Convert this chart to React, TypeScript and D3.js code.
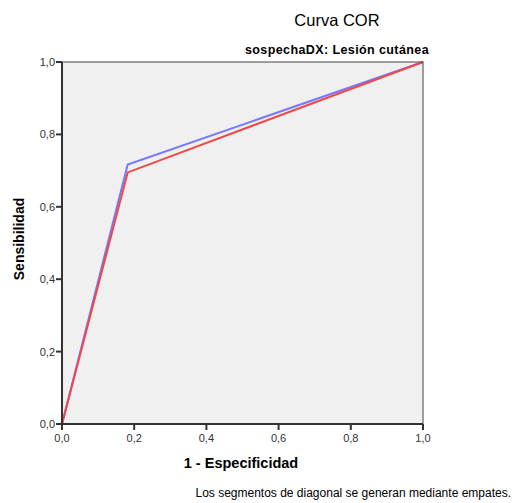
import * as d3 from "d3";

const fpr = [0, 0.182, 1];
const sensBlue = [0, 0.717, 1];
const sensRed = [0, 0.695, 1];
const ticks = [0, 0.2, 0.4, 0.6, 0.8, 1];

const W = 516;
const H = 503;
const left = 62;
const right = 423;
const top = 62;
const bottom = 424;

export default function App() {
  const x = d3.scaleLinear().domain([0, 1]).range([left, right]);
  const y = d3.scaleLinear().domain([0, 1]).range([bottom, top]);
  const fmt = (v: number) => v.toFixed(1).replace(".", ",");
  const line = (ys: number[]) =>
    d3
      .line<number>()
      .x((d) => x(d))
      .y((_, i) => y(ys[i]))(fpr) as string;
  const font = "Liberation Sans, Arial, sans-serif";

  return (
    <svg
      width={W}
      height={H}
      style={{ position: "absolute", left: 0, top: 0, background: "#fff" }}
      fontFamily={font}
    >
      <rect x={left} y={top} width={right - left} height={bottom - top} fill="#f0f0f0" />
      <path d={line(sensBlue)} fill="none" stroke="#7777ff" strokeWidth={2} />
      <path d={line(sensRed)} fill="none" stroke="#f04848" strokeWidth={2} />
      <rect x={left} y={top} width={right - left} height={bottom - top} fill="none" stroke="#444" strokeWidth={1} />
      <line x1={left} x2={left} y1={top} y2={bottom} stroke="#333" strokeWidth={2} />
      <line x1={left} x2={right} y1={bottom} y2={bottom} stroke="#333" strokeWidth={2} />
      {ticks.map((t) => (
        <g key={"y" + t}>
          <line x1={left - 6} x2={left} y1={y(t)} y2={y(t)} stroke="#333" strokeWidth={2} />
          <text x={left - 7} y={y(t) + 4} textAnchor="end" fontSize={11} fill="#333">
            {fmt(t)}
          </text>
        </g>
      ))}
      {ticks.map((t) => (
        <g key={"x" + t}>
          <line x1={x(t)} x2={x(t)} y1={bottom} y2={bottom + 6} stroke="#333" strokeWidth={2} />
          <text x={x(t)} y={bottom + 18} textAnchor="middle" fontSize={11} fill="#333">
            {fmt(t)}
          </text>
        </g>
      ))}
      <text x={337} y={26} textAnchor="middle" fontSize={16.5} fill="#000">
        Curva COR
      </text>
      <text x={337} y={54} textAnchor="middle" fontSize={12.5} fontWeight="bold" letterSpacing={0.4} fill="#000">
        sospechaDX: Lesión cutánea
      </text>
      <text
        transform={`translate(24,239) rotate(-90)`}
        textAnchor="middle"
        fontSize={14}
        fontWeight="bold"
        fill="#000"
      >
        Sensibilidad
      </text>
      <text x={241} y={468} textAnchor="middle" fontSize={14.5} fontWeight="bold" fill="#000">
        1 - Especificidad
      </text>
      <text x={511} y={497} textAnchor="end" fontSize={12} fill="#000">
        Los segmentos de diagonal se generan mediante empates.
      </text>
    </svg>
  );
}
